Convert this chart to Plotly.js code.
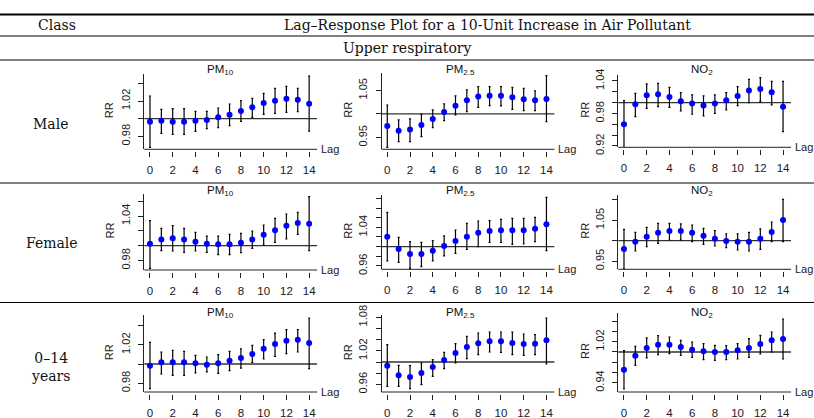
<!DOCTYPE html>
<html>
<head>
<meta charset="utf-8">
<script src="https://cdn.plot.ly/plotly-3.0.1.min.js"></script>
<style>html,body{margin:0;padding:0;background:#fff}#chart{width:814px;height:418px}</style>
</head>
<body>
<div id="chart"></div>
<script>
// ---------- data ----------
const lags = [0,1,2,3,4,5,6,7,8,9,10,11,12,13,14];
const xTickVals = [0,2,4,6,8,10,12,14];

const classLabels = ["Male", "Female", "0–14<br>years"];
const pollutantTitles = ["PM<sub>10</sub>", "PM<sub>2.5</sub>", "NO<sub>2</sub>"];
const headerClass = "Class";
const headerTitle = "Lag–Response Plot for a 10-Unit Increase in Air Pollutant";
const headerGroup = "Upper respiratory";

// Male
const maleRR_PM10 = [0.9966,0.9977,0.9966,0.9966,0.9977,0.9985,1.0015,1.0045,1.0087,1.0128,1.0177,1.0204,1.0226,1.0215,1.0170];
const maleLo_PM10 = [0.9675,0.9834,0.9823,0.9823,0.9857,0.9887,0.9898,0.9921,0.9970,1.0015,1.0049,1.0060,1.0072,1.0079,0.9860];
const maleHi_PM10 = [1.0257,1.0106,1.0113,1.0113,1.0083,1.0083,1.0121,1.0166,1.0204,1.0230,1.0287,1.0343,1.0366,1.0343,1.0483];
const maleRR_PM25 = [0.9745,0.9645,0.9667,0.9766,0.9894,1.0043,1.0177,1.0291,1.0369,1.0390,1.0390,1.0355,1.0312,1.0291,1.0319];
const maleLo_PM25 = [0.9291,0.9411,0.9411,0.9518,0.9709,0.9858,0.9979,1.0050,1.0142,1.0177,1.0170,1.0099,1.0071,1.0071,0.9837];
const maleHi_PM25 = [1.0191,0.9872,0.9894,0.9993,1.0085,1.0213,1.0383,1.0511,1.0582,1.0582,1.0582,1.0567,1.0546,1.0489,1.0816];
const maleRR_NO2  = [0.9600,0.9969,1.0135,1.0154,1.0105,1.0025,0.9982,0.9945,0.9982,1.0043,1.0123,1.0222,1.0252,1.0191,0.9926];
const maleLo_NO2  = [0.9157,0.9742,0.9895,0.9926,0.9914,0.9846,0.9785,0.9754,0.9803,0.9865,0.9945,1.0000,1.0018,0.9957,0.9465];
const maleHi_NO2  = [1.0037,1.0172,1.0345,1.0357,1.0283,1.0185,1.0142,1.0123,1.0142,1.0185,1.0295,1.0431,1.0462,1.0394,1.0394];

// Female
const femRR_PM10 = [1.0027,1.0085,1.0099,1.0085,1.0054,1.0027,1.0018,1.0018,1.0040,1.0085,1.0148,1.0207,1.0270,1.0306,1.0297];
const femLo_PM10 = [0.9694,0.9933,0.9928,0.9910,0.9928,0.9910,0.9879,0.9879,0.9906,0.9964,1.0009,1.0045,1.0090,1.0153,0.9933];
const femHi_PM10 = [1.0337,1.0234,1.0270,1.0234,1.0180,1.0130,1.0130,1.0153,1.0166,1.0198,1.0279,1.0369,1.0427,1.0449,1.0661];
const femRR_PM25 = [1.0207,0.9952,0.9848,0.9848,0.9917,1.0014,1.0117,1.0207,1.0290,1.0324,1.0338,1.0338,1.0338,1.0372,1.0462];
const femLo_PM25 = [0.9703,0.9676,0.9552,0.9586,0.9703,0.9807,0.9862,0.9945,1.0000,1.0090,1.0090,1.0048,1.0055,1.0103,0.9917];
const femHi_PM25 = [1.0710,1.0193,1.0103,1.0090,1.0124,1.0221,1.0345,1.0483,1.0531,1.0538,1.0566,1.0586,1.0586,1.0607,1.1021];
const femRR_NO2  = [0.9797,0.9976,1.0098,1.0195,1.0236,1.0236,1.0195,1.0122,1.0049,0.9992,0.9976,0.9976,1.0049,1.0211,1.0504];
const femLo_NO2  = [0.9309,0.9748,0.9854,0.9935,1.0016,1.0016,0.9976,0.9911,0.9870,0.9829,0.9772,0.9748,0.9789,0.9976,0.9976];
const femHi_NO2  = [1.0276,1.0203,1.0325,1.0423,1.0423,1.0407,1.0382,1.0301,1.0244,1.0163,1.0163,1.0203,1.0285,1.0455,1.1008];

// Age 0–14
const kidRR_PM10 = [0.9983,1.0017,1.0017,1.0017,1.0007,0.9993,1.0007,1.0035,1.0063,1.0104,1.0160,1.0209,1.0243,1.0254,1.0219];
const kidLo_PM10 = [0.9743,0.9896,0.9882,0.9882,0.9906,0.9917,0.9903,0.9930,0.9958,1.0017,1.0052,1.0080,1.0108,1.0125,0.9951];
const kidHi_PM10 = [1.0226,1.0125,1.0143,1.0132,1.0090,1.0073,1.0097,1.0132,1.0157,1.0195,1.0254,1.0323,1.0358,1.0358,1.0480];
const kidRR_PM25 = [0.9934,0.9761,0.9731,0.9803,0.9910,1.0036,1.0161,1.0269,1.0334,1.0370,1.0370,1.0340,1.0322,1.0328,1.0388];
const kidLo_PM25 = [0.9564,0.9564,0.9522,0.9594,0.9743,0.9881,0.9982,1.0060,1.0131,1.0179,1.0173,1.0131,1.0119,1.0131,0.9964];
const kidHi_PM25 = [1.0310,0.9940,0.9934,0.9982,1.0042,1.0173,1.0328,1.0460,1.0519,1.0537,1.0537,1.0537,1.0501,1.0490,1.0788];
const kidRR_NO2  = [0.9655,0.9928,1.0078,1.0143,1.0143,1.0098,1.0046,1.0013,1.0000,1.0000,1.0033,1.0078,1.0156,1.0228,1.0254];
const kidLo_NO2  = [0.9277,0.9739,0.9883,0.9948,0.9967,0.9935,0.9896,0.9850,0.9837,0.9850,0.9863,0.9896,0.9961,1.0000,0.9863];
const kidHi_NO2  = [1.0026,1.0111,1.0274,1.0319,1.0293,1.0228,1.0195,1.0163,1.0130,1.0124,1.0163,1.0261,1.0326,1.0391,1.0645];

// y tick values: labelled ticks and unlabelled ticks per panel
const yLab_M_PM10 = [0.98,1.02];       const yTick_M_PM10 = [1.00,1.04];
const yLab_M_PM25 = [0.95,1.05];       const yTick_M_PM25 = [1.00];
const yLab_M_NO2  = [0.92,0.98,1.04];  const yTick_M_NO2  = [0.94,0.96,1.00,1.02];
const yLab_F_PM10 = [0.98,1.04];       const yTick_F_PM10 = [1.00,1.02,1.06];
const yLab_F_PM25 = [0.96,1.04];       const yTick_F_PM25 = [0.98,1.00,1.02,1.06,1.08,1.10];
const yLab_F_NO2  = [0.95,1.05];       const yTick_F_NO2  = [1.00,1.10];
const yLab_K_PM10 = [0.98,1.02];       const yTick_K_PM10 = [1.00,1.04];
const yLab_K_PM25 = [0.96,1.02,1.08];  const yTick_K_PM25 = [0.98,1.00,1.04,1.06];
const yLab_K_NO2  = [0.94,1.02];       const yTick_K_NO2  = [0.96,0.98,1.00,1.04,1.06];

// ---------- layout config ----------
const W = 814, H = 418;
const px = v => v / W, py = v => 1 - v / H;

const panels = [
  {rr: maleRR_PM10, lo: maleLo_PM10, hi: maleHi_PM10, lab: yLab_M_PM10, tk: yTick_M_PM10, yr: [0.9653,1.0506], top: 74,    bot: 149.3, col: 0, row: 0},
  {rr: maleRR_PM25, lo: maleLo_PM25, hi: maleHi_PM25, lab: yLab_M_PM25, tk: yTick_M_PM25, yr: [0.9248,1.0865], top: 73.3,  bot: 149.3, col: 1, row: 0},
  {rr: maleRR_NO2,  lo: maleLo_NO2,  hi: maleHi_NO2,  lab: yLab_M_NO2,  tk: yTick_M_NO2,  yr: [0.9175,1.0510], top: 75,    bot: 147.3, col: 2, row: 0},
  {rr: femRR_PM10,  lo: femLo_PM10,  hi: femHi_PM10,  lab: yLab_F_PM10, tk: yTick_F_PM10, yr: [0.9672,1.0697], top: 194,   bot: 270,   col: 0, row: 1},
  {rr: femRR_PM25,  lo: femLo_PM25,  hi: femHi_PM25,  lab: yLab_F_PM25, tk: yTick_F_PM25, yr: [0.9531,1.1069], top: 195,   bot: 269.3, col: 1, row: 1},
  {rr: femRR_NO2,   lo: femLo_NO2,   hi: femHi_NO2,   lab: yLab_F_NO2,  tk: yTick_F_NO2,  yr: [0.9301,1.1114], top: 195,   bot: 269.3, col: 2, row: 1},
  {rr: kidRR_PM10,  lo: kidLo_PM10,  hi: kidHi_PM10,  lab: yLab_K_PM10, tk: yTick_K_PM10, yr: [0.9708,1.0508], top: 315.3, bot: 392,   col: 0, row: 2},
  {rr: kidRR_PM25,  lo: kidLo_PM25,  hi: kidHi_PM25,  lab: yLab_K_PM25, tk: yTick_K_PM25, yr: [0.9463,1.0836], top: 315.3, bot: 392,   col: 1, row: 2},
  {rr: kidRR_NO2,   lo: kidLo_NO2,   hi: kidHi_NO2,   lab: yLab_K_NO2,  tk: yTick_K_NO2,  yr: [0.9218,1.0762], top: 313,   bot: 392,   col: 2, row: 2}
];
const colX = [[144.3,317.1],[381.6,554.4],[618.3,791.0]];
const titleX = [220, 460, 702];
const titleY = [70, 191, 313];
const rrX = [109, 348, 585];

const sansFont = "Liberation Sans, Arial, sans-serif";
const serifFont = "DejaVu Serif, serif";
const ink = "#1a1a1a";

const data = [];
const layout = {
  width: W, height: H,
  margin: {l:0, r:0, t:0, b:0},
  paper_bgcolor: "#fff", plot_bgcolor: "#fff",
  showlegend: false,
  font: {family: sansFont, size: 11, color: ink},
  shapes: [], annotations: []
};

panels.forEach((p, i) => {
  const n = i + 1;
  const xs = n === 1 ? "x" : "x" + n;
  const ys = n === 1 ? "y" : "y" + n;
  const xk = n === 1 ? "xaxis" : "xaxis" + n;
  const yk = n === 1 ? "yaxis" : "yaxis" + n;
  const [x0, x1] = colX[p.col];

  data.push({
    type: "scatter", mode: "markers",
    x: lags, y: p.rr, xaxis: xs, yaxis: ys,
    marker: {color: "#0000ff", size: 6},
    error_y: {type: "data", symmetric: false,
      array: p.hi.map((h, k) => h - p.rr[k]),
      arrayminus: p.lo.map((l, k) => p.rr[k] - l),
      color: "#000", thickness: 1.2, width: 1},
    hoverinfo: "skip", cliponaxis: false
  });

  layout[xk] = {
    domain: [px(x0), px(x1)], range: [-0.5, 14.7],
    anchor: "free", position: py(p.bot + 2),
    showline: false, showgrid: false, zeroline: false,
    ticks: "outside", ticklen: 5, tickwidth: 1, tickcolor: "#222",
    tickmode: "array", tickvals: xTickVals, ticktext: xTickVals.map(String),
    tickfont: {family: sansFont, size: 11.5, color: ink},
    ticklabelstandoff: 3, fixedrange: true
  };
  layout[yk] = {
    domain: [py(p.bot), py(p.top)], range: p.yr, anchor: xs,
    showline: true, linecolor: "#222", linewidth: 1,
    showgrid: false, zeroline: false,
    ticks: "outside", ticklen: 5, tickwidth: 1, tickcolor: "#222",
    tickmode: "array", tickvals: p.lab, ticktext: p.lab.map(v => v.toFixed(2)), tickangle: -90,
    minor: {tickmode: "array", tickvals: p.tk, ticks: "outside", ticklen: 5, tickwidth: 1, tickcolor: "#222", showgrid: false},
    tickfont: {family: sansFont, size: 11, color: ink},
    ticklabelstandoff: 4, fixedrange: true
  };

  // reference line at RR = 1
  layout.shapes.push({type: "line", xref: xs + " domain", yref: ys, x0: 0, x1: 1, y0: 1, y1: 1,
    line: {color: "#333", width: 1.3}, layer: "below"});
  // bottom line of the L frame
  layout.shapes.push({type: "line", xref: xs + " domain", yref: ys + " domain", x0: 0, x1: 1, y0: 0, y1: 0,
    line: {color: "#222", width: 1}});
  // "Lag" label
  layout.annotations.push({text: "Lag", xref: xs + " domain", yref: ys + " domain", x: 1, y: 0,
    xanchor: "left", yanchor: "middle", xshift: 2, showarrow: false,
    font: {family: sansFont, size: 11, color: ink}});
  // "RR" label
  layout.annotations.push({text: "RR", xref: "paper", yref: "paper", x: px(rrX[p.col]), y: py((p.top + p.bot) / 2 - 1.5),
    xanchor: "center", yanchor: "middle", textangle: -90, showarrow: false,
    font: {family: sansFont, size: 11, color: ink}});
  // panel title
  layout.annotations.push({text: pollutantTitles[p.col], xref: "paper", yref: "paper",
    x: px(titleX[p.col]), y: py(titleY[p.row]), xanchor: "center", yanchor: "middle", showarrow: false,
    font: {family: sansFont, size: 11.5, color: "#111"}});
});

// ---------- table frame ----------
const hline = (y, w) => ({type: "line", xref: "paper", yref: "paper", x0: 0, x1: 1, y0: py(y), y1: py(y), line: {color: "#000", width: w}});
layout.shapes.push(hline(14.5, 2.2), hline(36, 1), hline(60, 1), hline(183, 1), hline(302.5, 1));

const tableText = (text, x, y) => ({text, xref: "paper", yref: "paper", x: px(x), y: py(y),
  xanchor: "center", yanchor: "middle", showarrow: false, align: "center",
  font: {family: serifFont, size: 14, color: "#111"}});
layout.annotations.push(tableText(headerClass, 57, 25));
layout.annotations.push(tableText(headerTitle, 487.5, 25));
layout.annotations.push(tableText(headerGroup, 407.5, 48));
layout.annotations.push(tableText(classLabels[0], 50, 124));
layout.annotations.push(tableText(classLabels[1], 52, 243));
layout.annotations.push(tableText(classLabels[2], 50, 367));

Plotly.newPlot("chart", data, layout, {staticPlot: true, displayModeBar: false});
</script>
</body>
</html>
